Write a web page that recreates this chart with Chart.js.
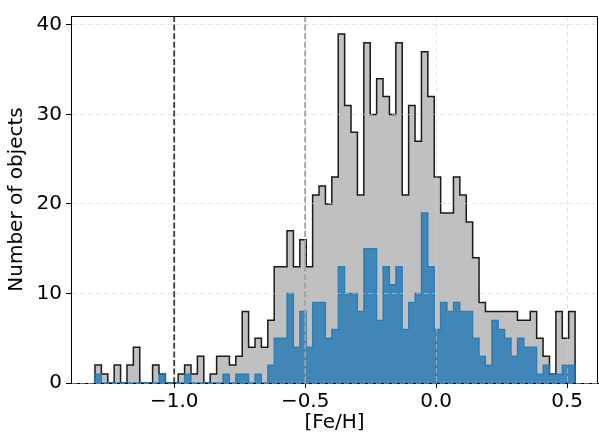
<!DOCTYPE html>
<html>
<head>
<meta charset="utf-8">
<script src="https://cdn.jsdelivr.net/npm/chart.js@4.4.1/dist/chart.umd.min.js"></script>
<style>
  html, body { margin: 0; padding: 0; background: #fff; }
  #wrap { width: 599px; height: 440px; }
</style>
</head>
<body>
<div id="wrap"><canvas id="histChart" width="599" height="440"></canvas></div>
<script>
/* [Fe/H] histogram — all objects (grey) and subset (blue) */
const binLo = -1.3025;
const binHi = 0.5305;

const allCounts = [
  2, 1, 0, 2, 0, 2, 4, 0, 0, 2,
  1, 0, 0, 1, 2, 1, 3, 0, 1, 3,
  3, 2, 3, 8, 4, 5, 4, 7, 13, 13,
  17, 13, 16, 13, 21, 22, 20, 23, 39, 31,
  28, 21, 38, 30, 34, 32, 30, 38, 21, 31,
  27, 37, 32, 23, 19, 19, 23, 21, 18, 14,
  9, 8, 8, 8, 8, 8, 7, 7, 8, 5,
  3, 1, 8, 5, 8
];

const subsetCounts = [
  1, 0, 0, 0, 0, 0, 0, 0, 0, 0,
  1, 0, 0, 0, 1, 0, 0, 0, 0, 0,
  1, 0, 1, 1, 0, 1, 0, 2, 5, 5,
  10, 4, 8, 4, 9, 9, 5, 6, 13, 10,
  10, 8, 15, 15, 7, 13, 11, 13, 6, 9,
  10, 19, 13, 6, 9, 8, 9, 8, 8, 5,
  3, 2, 7, 6, 5, 3, 5, 4, 4, 1,
  2, 1, 1, 2, 2
];

const refLines = [-1.0, -0.5];
const xTicks   = [-1.0, -0.5, 0.0, 0.5];
const yTicks   = [0, 10, 20, 30, 40];

// step outline: one point per bin edge, closed down to zero at both ends
function stepPoints(counts) {
  const w = (binHi - binLo) / counts.length;
  const pts = [{ x: binLo, y: 0 }];
  counts.forEach((c, i) => pts.push({ x: binLo + i * w, y: c }));
  pts.push({ x: binHi, y: counts[counts.length - 1] });
  pts.push({ x: binHi, y: 0 });
  return pts;
}

const fmtTick = v => (v < 0 ? '\u2212' : '') + Math.abs(v).toFixed(1);

const refLinePlugin = {
  id: 'refLines',
  afterDraw(chart) {
    const { ctx, chartArea: a, scales: { x } } = chart;
    const colors = ['#3a3a3a', '#a0a0a0'];
    ctx.save();
    ctx.beginPath();
    ctx.rect(a.left, a.top, a.right - a.left, a.bottom - a.top);
    ctx.clip();
    ctx.lineWidth = 1.8;
    ctx.setLineDash([6, 2.6]);
    refLines.forEach((v, i) => {
      const px = x.getPixelForValue(v);
      ctx.strokeStyle = colors[i];
      ctx.beginPath();
      ctx.moveTo(px, a.top);
      ctx.lineTo(px, a.bottom);
      ctx.stroke();
    });
    ctx.restore();

    // top + right spines
    ctx.save();
    ctx.strokeStyle = '#000';
    ctx.lineWidth = 1;
    ctx.beginPath();
    ctx.moveTo(a.left, a.top + 0.5);
    ctx.lineTo(a.right - 0.5, a.top + 0.5);
    ctx.lineTo(a.right - 0.5, a.bottom);
    ctx.stroke();
    ctx.restore();
  }
};

Chart.defaults.font.family = 'DejaVu Sans';
Chart.defaults.color = '#000';

const gridColor = 'rgba(205,205,205,0.55)';

new Chart(document.getElementById('histChart').getContext('2d'), {
  type: 'line',
  data: {
    datasets: [{
      label: 'subset',
      data: stepPoints(subsetCounts),
      stepped: true,
      fill: 'origin',
      backgroundColor: 'rgba(31,119,180,0.8)',
      borderColor: 'rgba(31,119,180,0.85)',
      borderWidth: 1.3,
      pointRadius: 0,
      order: 1,
    }, {
      label: 'all',
      data: stepPoints(allCounts),
      stepped: true,
      fill: 'origin',
      backgroundColor: '#c0c0c0',
      borderColor: '#1a1a1a',
      borderWidth: 1.5,
      pointRadius: 0,
      order: 2,
    }]
  },
  options: {
    responsive: false,
    animation: false,
    layout: { padding: { left: 0, right: 1, top: 10, bottom: 0 } },
    plugins: {
      legend: { display: false },
      tooltip: { enabled: false }
    },
    scales: {
      x: {
        type: 'linear',
        min: -1.394,
        max: 0.618,
        afterFit: s => { s.height = 57; },
        afterBuildTicks: s => { s.ticks = xTicks.map(v => ({ value: v })); },
        ticks: { font: { size: 20 }, padding: 2, maxRotation: 0, callback: fmtTick },
        grid: { color: gridColor, lineWidth: 1, z: 1, tickColor: '#000', tickLength: 5, tickWidth: 1 },
        border: { display: true, color: '#000', width: 1, dash: [5, 3], z: 1 },
        title: { display: true, text: '[Fe/H]', font: { size: 20 }, padding: { top: 0, bottom: 5 } }
      },
      y: {
        min: 0,
        max: 41,
        afterFit: s => { s.width = 71; },
        afterBuildTicks: s => { s.ticks = yTicks.map(v => ({ value: v })); },
        ticks: { font: { size: 20 }, padding: 4, callback: v => String(v) },
        grid: { color: gridColor, lineWidth: 1, z: 1, tickColor: '#000', tickLength: 5, tickWidth: 1 },
        border: { display: true, color: '#000', width: 1, dash: [5, 3], z: 1 },
        title: { display: true, text: 'Number of objects', font: { size: 20 }, padding: { top: 5, bottom: 0 } }
      }
    }
  },
  plugins: [refLinePlugin]
});
</script>
</body>
</html>
